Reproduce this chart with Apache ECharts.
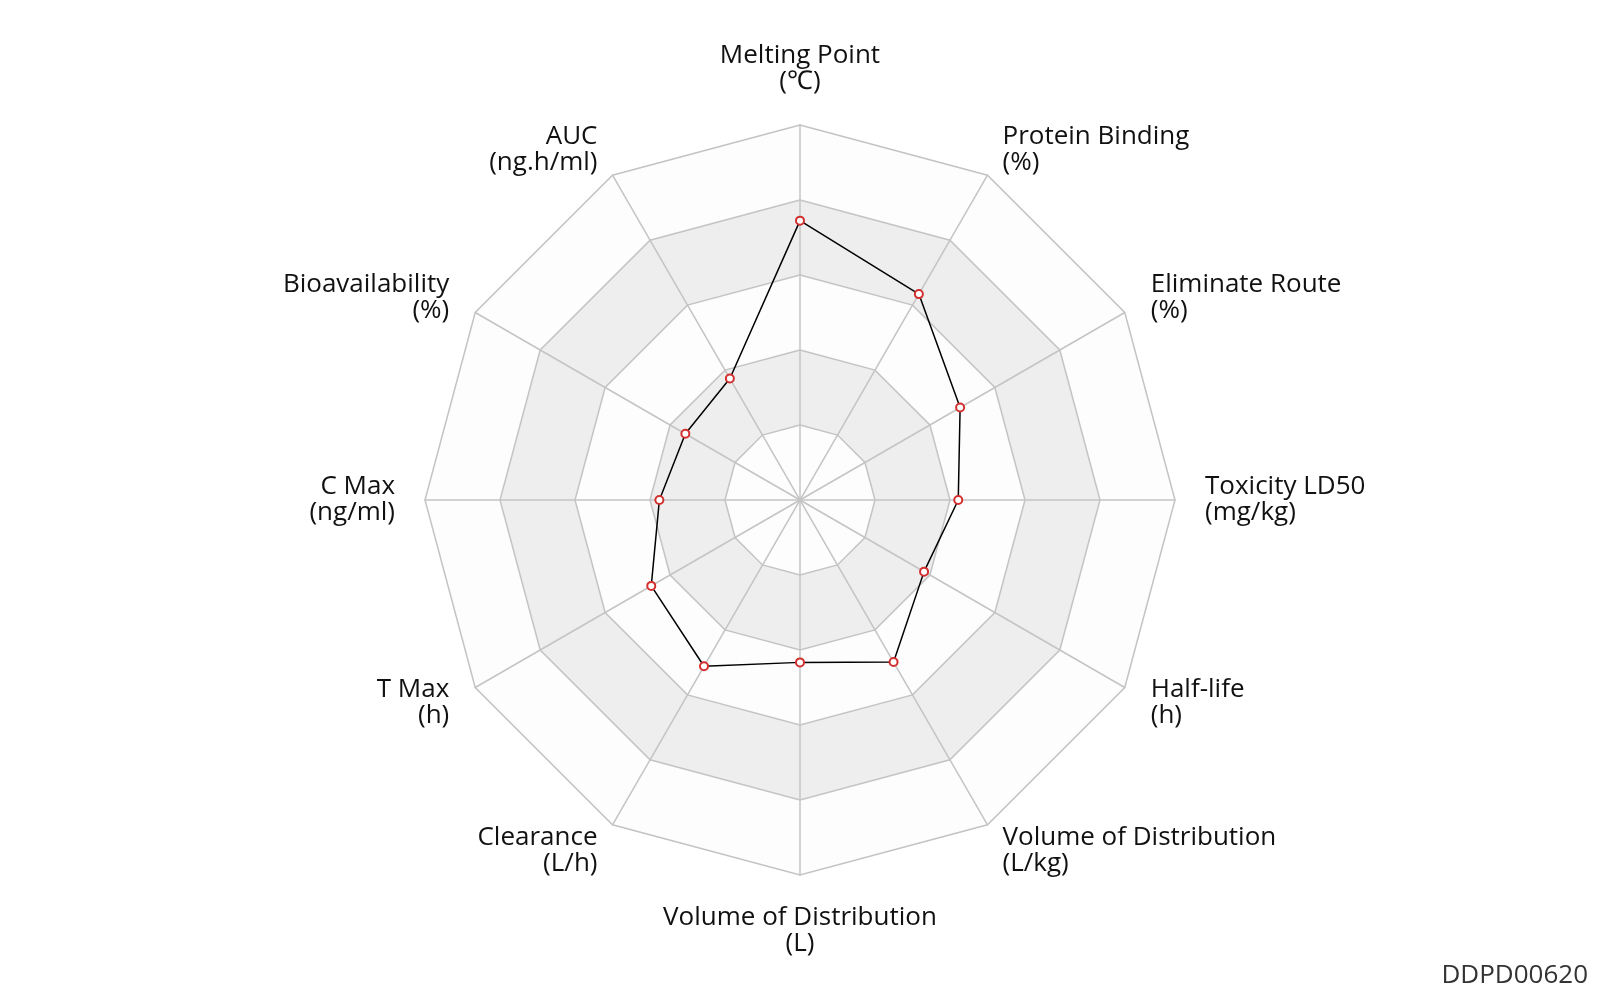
<!DOCTYPE html>
<html>
<head>
<meta charset="utf-8">
<script src="https://cdn.jsdelivr.net/npm/echarts@6/dist/echarts.min.js"></script>
<style>
  html, body { margin: 0; padding: 0; background: #fff; }
  #chart { width: 1600px; height: 1000px; }
</style>
</head>
<body>
<div id="chart"></div>
<script>
// indicators in echarts order (counter-clockwise from the top)
var names = [
  "Melting Point\n(℃)",
  "AUC\n(ng.h/ml)",
  "Bioavailability\n(%)",
  "C Max\n(ng/ml)",
  "T Max\n(h)",
  "Clearance\n(L/h)",
  "Volume of Distribution\n(L)",
  "Volume of Distribution\n(L/kg)",
  "Half-life\n(h)",
  "Toxicity LD50\n(mg/kg)",
  "Eliminate Route\n(%)",
  "Protein Binding\n(%)"
];
// normalised scores (0-100)
var scores = [74.5, 37.4, 35.3, 37.5, 45.8, 51.2, 43.3, 49.9, 38.2, 42.2, 49.3, 63.4];
var maxScore = 100;
var code = "DDPD00620";

var myChart = echarts.init(document.getElementById("chart"));

var option = {
  backgroundColor: "#fff",
  graphic: [
    {
      type: "text",
      right: 12,
      bottom: 11,
      style: {
        text: code,
        fill: "#333",
        font: "26px 'Open Sans'"
      }
    }
  ],
  radar: {
    center: ["50%", "50%"],
    radius: 375,
    shape: "polygon",
    splitNumber: 5,
    nameGap: 30,
    axisName: {
      color: "#111",
      fontSize: 26,
      lineHeight: 26,
      fontFamily: "Open Sans"
    },
    axisLine: { lineStyle: { color: "#c4c4c4", width: 1.5 } },
    splitLine: { lineStyle: { color: "#c4c4c4", width: 1.5 } },
    splitArea: {
      areaStyle: {
        color: ["rgba(250,250,250,0.3)", "rgba(200,200,200,0.3)"]
      }
    },
    indicator: names.map(function (n) {
      return { name: n, min: 0, max: maxScore };
    })
  },
  series: [
    {
      type: "radar",
      symbol: "emptyCircle",
      symbolSize: 8,
      lineStyle: { color: "#000", width: 1.5 },
      itemStyle: { color: "#d32f2f", borderColor: "#d32f2f", borderWidth: 1.5 },
      data: [{ value: scores }]
    }
  ]
};

myChart.setOption(option);
</script>
</body>
</html>
